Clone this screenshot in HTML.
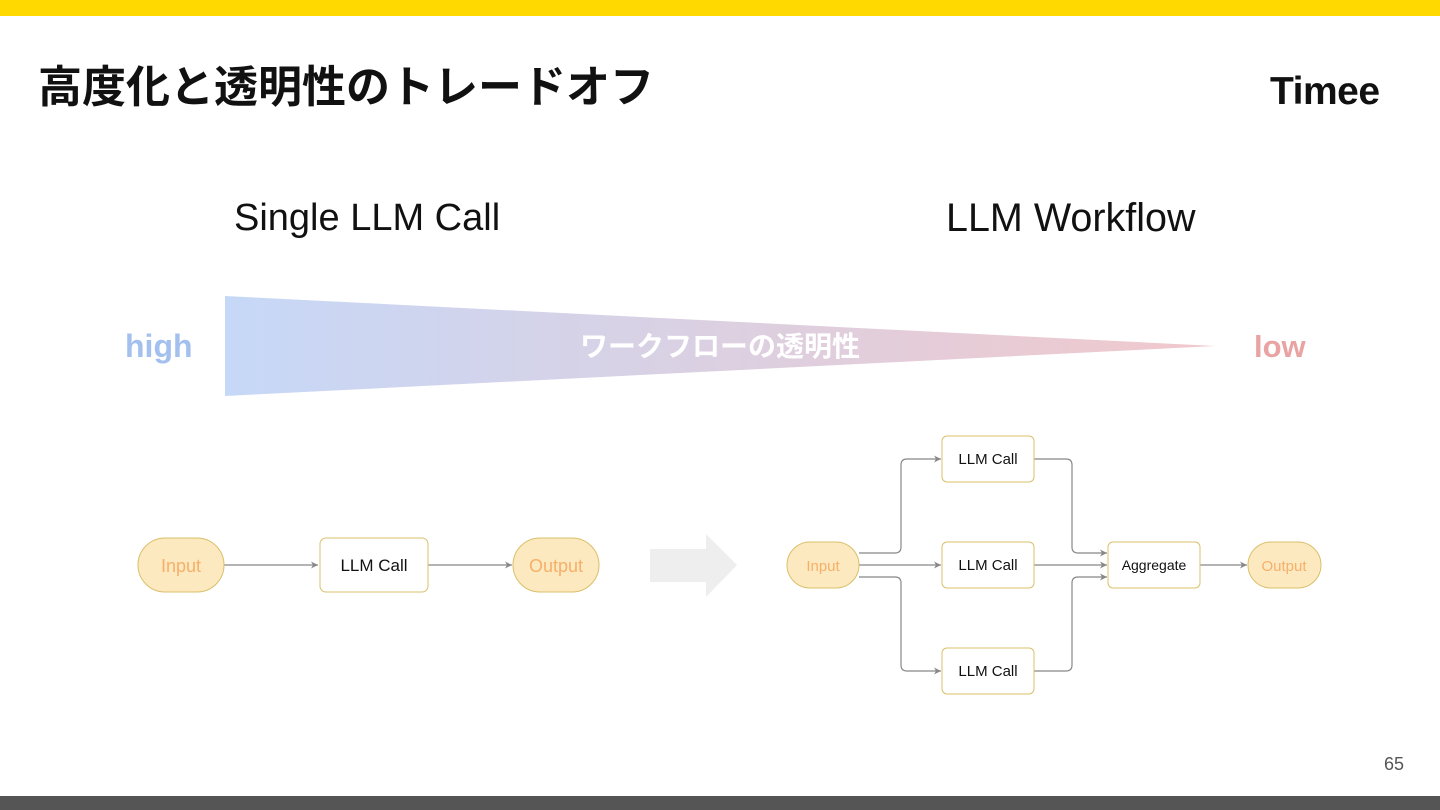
<!DOCTYPE html>
<html><head><meta charset="utf-8"><style>
body{margin:0;width:1440px;height:810px;position:relative;background:#fff;overflow:hidden;font-family:"Liberation Sans","Noto Sans CJK JP",sans-serif}
.t{position:absolute;white-space:nowrap}
</style></head><body>
<div style="position:absolute;left:0;top:0;width:1440px;height:16px;background:#FFD900"></div>
<div style="position:absolute;left:0;top:796px;width:1440px;height:14px;background:#555"></div>
<div class="t" style="left:38px;top:51px;font-size:44px;font-weight:bold;color:#111;letter-spacing:0px">高度化と透明性のトレードオフ</div>
<div class="t" style="left:1270px;top:70px;font-size:39px;font-weight:bold;color:#111;letter-spacing:-0.5px">Timee</div>
<div class="t" style="left:234px;top:197px;font-size:38px;color:#111">Single LLM Call</div>
<div class="t" style="left:946px;top:196px;font-size:39.5px;color:#111">LLM Workflow</div>
<div class="t" style="left:1384px;top:754px;font-size:18px;color:#555">65</div>
<svg width="1440" height="810" style="position:absolute;left:0;top:0" font-family="Liberation Sans, Noto Sans CJK JP, sans-serif">
<defs>
<linearGradient id="g" x1="0" x2="1"><stop offset="0" stop-color="#c6d8f7"/><stop offset="1" stop-color="#f1c8cc"/></linearGradient>
<marker id="a" markerWidth="8" markerHeight="8" refX="7" refY="4" orient="auto" markerUnits="userSpaceOnUse"><path d="M0,0.5 L7,4 L0,7.5 L2,4z" fill="#888"/></marker>
</defs>
<polygon points="225,296 1215,346 225,396" fill="url(#g)"/>
<text x="720" y="356" text-anchor="middle" font-size="28" font-weight="bold" fill="#fff">ワークフローの透明性</text>
<text x="125" y="357" font-size="32" font-weight="bold" fill="#a3c0ee">high</text>
<text x="1254" y="357" font-size="31" font-weight="bold" fill="#e9a3a3">low</text>
<g stroke="#888" stroke-width="1.2" fill="none" marker-end="url(#a)">
<path d="M224,565 H318"/><path d="M428,565 H512"/>
<path d="M859,553 H895 q6,0 6,-6 V465 q0,-6 6,-6 H941"/>
<path d="M859,565 H941"/>
<path d="M859,577 H895 q6,0 6,6 V665 q0,6 6,6 H941"/>
<path d="M1034,459 H1066 q6,0 6,6 V547 q0,6 6,6 H1107"/>
<path d="M1034,565 H1107"/>
<path d="M1034,671 H1066 q6,0 6,-6 V583 q0,-6 6,-6 H1107"/>
<path d="M1200,565 H1247"/>
</g>
<polygon points="650,549 706,549 706,534 737,565 706,597 706,582 650,582" fill="#eee"/>
<g stroke="#d9c06a" stroke-width="1">
<rect x="138" y="538" width="86" height="54" rx="27" fill="#fde9bf"/>
<rect x="513" y="538" width="86" height="54" rx="27" fill="#fde9bf"/>
<rect x="320" y="538" width="108" height="54" rx="6" fill="#fff"/>
<rect x="787" y="542" width="72" height="46" rx="23" fill="#fde9bf"/>
<rect x="1248" y="542" width="73" height="46" rx="23" fill="#fde9bf"/>
<rect x="942" y="436" width="92" height="46" rx="5" fill="#fff"/>
<rect x="942" y="542" width="92" height="46" rx="5" fill="#fff"/>
<rect x="942" y="648" width="92" height="46" rx="5" fill="#fff"/>
<rect x="1108" y="542" width="92" height="46" rx="5" fill="#fff"/>
</g>
<g text-anchor="middle" font-size="18">
<text x="181" y="572" fill="#f5b06a">Input</text>
<text x="556" y="572" fill="#f5b06a">Output</text>
<text x="374" y="571" fill="#111" font-size="17">LLM Call</text>
</g>
<g text-anchor="middle" font-size="15">
<text x="823" y="571" fill="#f5b06a">Input</text>
<text x="1284" y="571" fill="#f5b06a">Output</text>
<text x="988" y="464" fill="#111">LLM Call</text>
<text x="988" y="570" fill="#111">LLM Call</text>
<text x="988" y="676" fill="#111">LLM Call</text>
<text x="1154" y="570" fill="#111" font-size="14">Aggregate</text>
</g>
</svg>
</body></html>
